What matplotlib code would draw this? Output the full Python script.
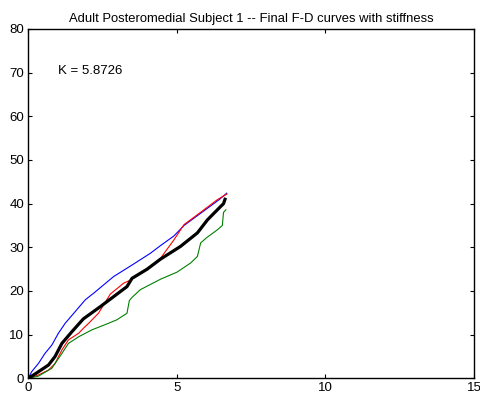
import matplotlib
matplotlib.use("Agg")
import matplotlib.pyplot as plt

plt.rcParams['font.family'] = ['Liberation Sans', 'DejaVu Sans']
plt.rcParams['font.size'] = 9.5

# Datos
blue_x = [0, 0.11, 0.34, 0.56, 0.79, 1.01, 1.24, 1.58, 1.92, 2.20, 2.87, 3.55, 4.10, 4.45, 4.90, 5.24, 5.80, 6.42, 6.68]
blue_y = [0, 1.5, 3.4, 5.7, 7.6, 10.3, 12.6, 15.3, 18.0, 19.5, 23.3, 26.2, 28.6, 30.4, 32.6, 35.0, 37.8, 40.9, 42.4]

red_x = [0, 0.34, 0.68, 0.90, 1.13, 1.35, 1.69, 1.86, 2.03, 2.36, 2.76, 3.21, 3.44, 3.60, 4.11, 4.45, 4.90, 5.24, 5.46, 6.36, 6.68]
red_y = [0, 0.76, 1.9, 3.4, 6.5, 8.8, 10.3, 11.5, 12.6, 14.9, 19.3, 21.8, 22.5, 23.2, 25.6, 27.5, 31.7, 35.2, 36.3, 40.9, 42.2]

black_x = [0, 0.34, 0.68, 0.90, 1.13, 1.47, 1.85, 2.42, 2.87, 3.32, 3.49, 4.00, 4.45, 5.12, 5.69, 6.03, 6.48, 6.57, 6.62]
black_y = [0, 1.5, 3.05, 5.0, 8.0, 10.7, 13.6, 16.4, 18.7, 21.0, 22.9, 25.0, 27.3, 30.2, 33.3, 36.3, 39.4, 40.0, 41.0]

green_x = [0, 0.34, 0.79, 1.13, 1.35, 1.69, 2.14, 2.59, 2.98, 3.32, 3.40, 3.50, 3.77, 4.45, 5.00, 5.46, 5.69, 5.80, 6.00, 6.36, 6.53, 6.57, 6.65]
green_y = [0, 0.5, 2.3, 5.7, 8.0, 9.5, 11.1, 12.3, 13.4, 14.9, 17.8, 18.6, 20.3, 22.7, 24.3, 26.4, 27.9, 31.0, 32.2, 34.0, 35.0, 38.0, 38.6]

stiffness = 5.8726

fig = plt.figure(figsize=(4.81, 4.05), dpi=100)
ax = fig.add_axes([0.0589, 0.0659, 0.9265, 0.8625])

ax.plot(blue_x, blue_y, color='blue', lw=0.8)
ax.plot(red_x, red_y, color='red', lw=0.8)
ax.plot(green_x, green_y, color='green', lw=0.8)
ax.plot(black_x, black_y, color='black', lw=2.3)

ax.text(1.0, 70.3, 'K = %.4f' % stiffness, ha='left', va='center')

ax.set_xlim(0, 15)
ax.set_ylim(0, 80)
ax.set_xticks([0, 5, 10, 15])
ax.set_yticks(range(0, 81, 10))
ax.tick_params(direction='in', top=True, right=True, length=3, width=0.8, pad=3)
for s in ax.spines.values():
    s.set_linewidth(1.0)

ax.set_title('Adult Posteromedial Subject 1 -- Final F-D curves with stiffness', fontsize=9.4, pad=5)

fig.savefig('out.png', dpi=100)
